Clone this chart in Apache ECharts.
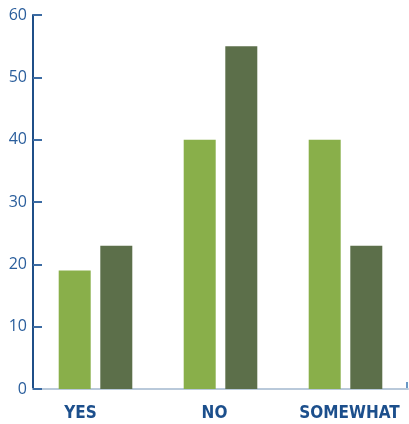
<!DOCTYPE html>
<html>
<head>
<meta charset="utf-8">
<style>
  html, body { margin: 0; padding: 0; background: #ffffff; }
  #chart { width: 409px; height: 424px; }
</style>
<script src="https://cdn.jsdelivr.net/npm/echarts@6/dist/echarts.min.js"></script>
</head>
<body>
<div id="chart"></div>
<script>
// Survey answers, two groups per answer
const categories = ['YES', 'NO', 'SOMEWHAT'];
const seriesA = [19, 40, 40];
const seriesB = [23, 55, 23];
const yTicks = [0, 10, 20, 30, 40, 50, 60];

// horizontal nudges of the answer labels (top, right, bottom, left padding)
const labelPad = {
  YES: [0, 30, 0, 0],
  NO: [0, 12, 0, 0],
  SOMEWHAT: [0, 0, 0, 8]
};

const chart = echarts.init(document.getElementById('chart'));
chart.setOption({
  animation: false,
  grid: { left: 33, right: 1, top: 15, bottom: 35, containLabel: false },
  xAxis: {
    type: 'category',
    data: categories.map(c => ({ value: c, textStyle: { padding: labelPad[c] } })),
    axisLine: { lineStyle: { color: '#b9c9da', width: 2 } },
    axisTick: { show: false },
    axisLabel: {
      interval: 0,
      hideOverlap: false,
      color: '#1c4f8c',
      fontFamily: 'DejaVu Sans Condensed',
      fontWeight: 'bold',
      fontSize: 17,
      margin: 16
    }
  },
  yAxis: {
    type: 'value',
    min: yTicks[0],
    max: yTicks[yTicks.length - 1],
    interval: 10,
    axisLine: { show: true, lineStyle: { color: '#1f4f88', width: 2 } },
    axisTick: { show: true, inside: true, length: 9, lineStyle: { color: '#3b6ba3', width: 2 } },
    splitLine: { show: false },
    axisLabel: {
      color: '#2a5e9c',
      fontFamily: 'Open Sans',
      fontSize: 16,
      margin: 6
    }
  },
  series: [
    {
      type: 'bar',
      data: seriesA,
      barWidth: 32,
      barGap: '30%',
      itemStyle: { color: '#89af4a' }
    },
    {
      type: 'bar',
      data: seriesB,
      barWidth: 32,
      barGap: '30%',
      itemStyle: { color: '#5c6f4a' }
    }
  ]
});

// small end cap at the right end of the category axis
const rect = chart.getModel().getComponent('grid').coordinateSystem.getRect();
chart.setOption({
  graphic: [{
    type: 'line',
    shape: {
      x1: rect.x + rect.width - 1, y1: rect.y + rect.height - 7,
      x2: rect.x + rect.width - 1, y2: rect.y + rect.height
    },
    style: { stroke: '#6a98c6', lineWidth: 2 }
  }]
});
</script>
</body>
</html>
